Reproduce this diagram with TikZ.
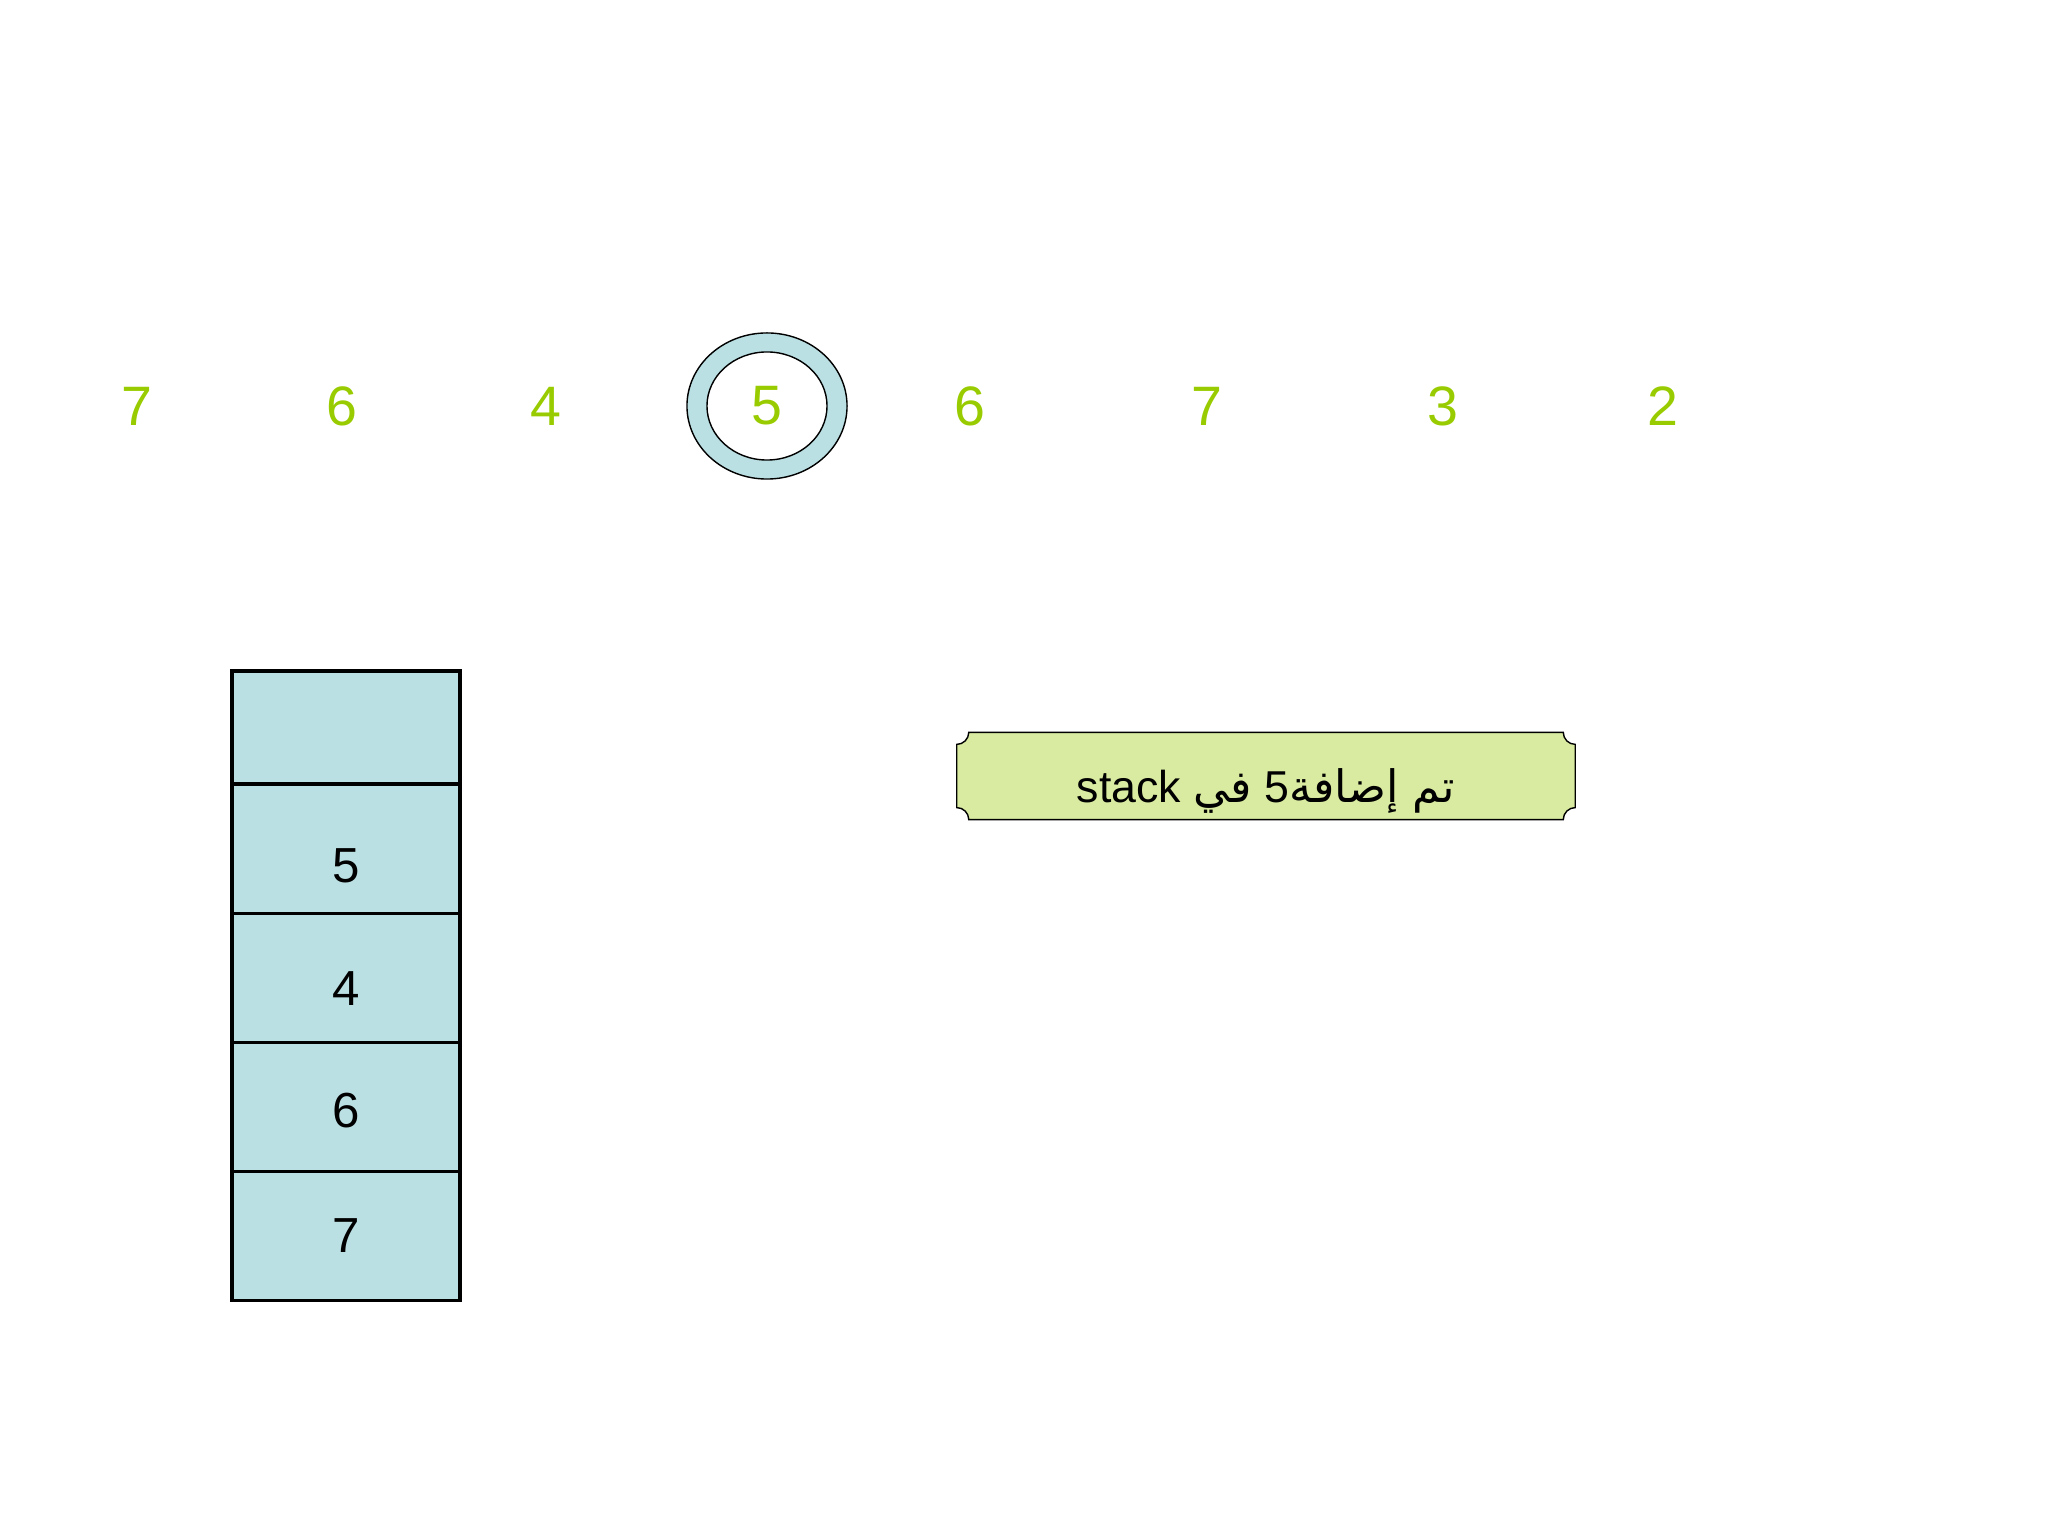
\documentclass[tikz,border=0pt]{standalone}
\usepackage{fontspec}
\setmainfont{Liberation Sans}
\newfontfamily\arabicfont[Script=Arabic]{DejaVu Sans}
\TeXXeTstate=1
\usepackage{xcolor}
\usepackage{tikz}
\usetikzlibrary{calc}
\usetikzlibrary{positioning}
\usetikzlibrary{backgrounds}

\definecolor{numgreen}{RGB}{153,204,0}
\definecolor{cellblue}{RGB}{187,224,227}
\definecolor{msggreen}{RGB}{217,235,160}

% lower a text without changing its box
\newcommand{\lowered}[2]{\raisebox{-#1}[\height][\depth]{#2}}

\begin{document}
\begin{tikzpicture}[x=0.01cm,y=0.01cm, line width=0.9pt]
	\tikzstyle{num}=[text=numgreen, font=\fontsize{15.8}{18}\selectfont, inner sep=0pt]
	\tikzstyle{cell}=[draw=black, fill=cellblue, minimum width=2.28cm, minimum height=1.29cm, outer sep=0pt, inner sep=0pt, font=\fontsize{14}{17}\selectfont]
	\tikzstyle{banner}=[draw=black, fill=msggreen]
	\useasboundingbox (0,0) rectangle (2048,1536);

	% the input row
	\foreach \v/\x [count=\i] in {7/137,6/342,4/546,5/767,6/970,7/1207,3/1443,2/1663}{
		\node[num] (n\i) at (\x,1130) {\v};
	}
	\begin{scope}[on background layer]
		\draw[fill=cellblue, even odd rule] (n4.center) ellipse [x radius=0.8cm, y radius=0.73cm]
			(n4.center) ellipse [x radius=0.6cm, y radius=0.54cm];
	\end{scope}

	% the stack
	\node[cell, minimum height=1.13cm] (top) at (346,808.5) {};
	\node[cell] (s5) [below=0pt of top] {\lowered{0.17cm}{5}};
	\node[cell] (s4) [below=0pt of s5] {\lowered{0.11cm}{4}};
	\node[cell] (s6) [below=0pt of s4] {\lowered{0.04cm}{6}};
	\node[cell] (s7) [below=0pt of s6] {7};

	% message
	\node[minimum width=6.15cm, minimum height=0.84cm, inner sep=0pt, font=\fontsize{12.7}{15}\selectfont] (msg) at (1266,760)
		{\lowered{0.15cm}{\beginR{\arabicfont تم إضافة}5 {\arabicfont في} \beginL stack\endL\endR}};
	\begin{scope}[on background layer]
		\draw[banner] ([xshift=1.2mm]msg.north west) -- ([xshift=-1.2mm]msg.north east)
			arc[start angle=180, end angle=270, radius=1.2mm] -- ([yshift=1.2mm]msg.south east)
			arc[start angle=90, end angle=180, radius=1.2mm] -- ([xshift=1.2mm]msg.south west)
			arc[start angle=0, end angle=90, radius=1.2mm] -- ([yshift=-1.2mm]msg.north west)
			arc[start angle=270, end angle=360, radius=1.2mm] -- cycle;
	\end{scope}
\end{tikzpicture}
\end{document}
